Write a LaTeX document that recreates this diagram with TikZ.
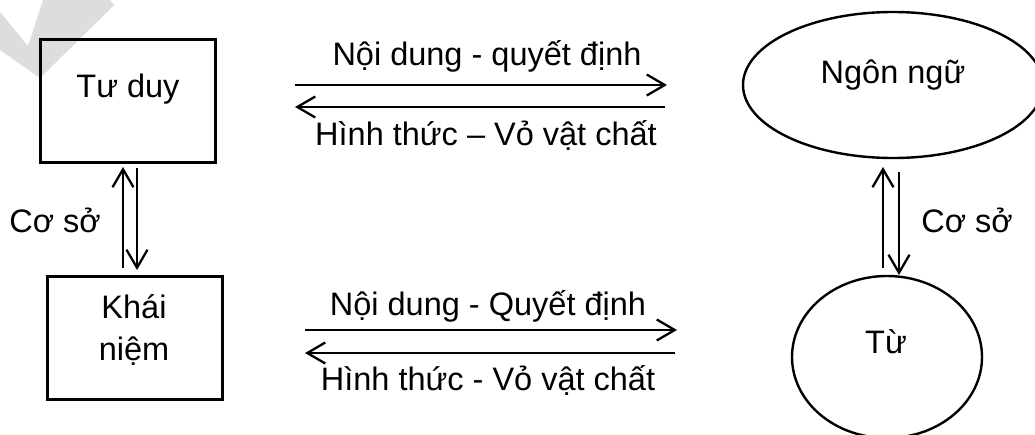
\documentclass[tikz,border=0pt]{standalone}
\usepackage{fontspec}
\setmainfont{Liberation Sans}
\usetikzlibrary{arrows.meta,shapes.geometric}
\definecolor{markgray}{HTML}{DDDDDD}
\tikzset{
  frame/.style={draw, line width=3pt, minimum width=175pt, minimum height=123pt, inner sep=0pt},
  oval/.style={draw, ellipse, line width=2.4pt, inner sep=0pt},
  word/.style={inner sep=0pt, anchor=base, font=\fontsize{32.5}{42}\selectfont},
  link/.style={line width=2.3pt, -{Straight Barb[length=18pt,width=21pt,line width=2.3pt]}}
}
\begin{document}
\begin{tikzpicture}[x=1pt,y=-1pt]
\useasboundingbox (0,0) rectangle (1035,434);
\clip (0,0) rectangle (1035,434);
\fill[white] (0,0) rectangle (1035,434);
% faint grey stroke in the top-left corner
\fill[markgray] (0,12) -- (28,46) -- (43,0) -- (110,0) -- (114,5) -- (97,22) -- (40,78) -- (0,50) -- cycle;

% shapes
\node[frame] (tuduy) at (127.5,100.5) {};
\node[word] (tuduytext) at (128,97) {Tư duy};
\node[frame] (khainiem) at (134.5,338) {};
\node[word] (khaitext) at (134,318) {Khái};
\node[word] (niemtext) at (134,360) {niệm};
\node[oval, minimum width=300pt, minimum height=146pt] (ngonngu) at (893,85) {};
\node[word] (ngonngutext) at (893,83) {Ngôn ngữ};
\node[oval, minimum width=190pt, minimum height=162pt] (tu) at (887,357) {};
\node[word] (tutext) at (886,353) {Từ};

% labels
\node[word] (top1) at (487,65) {Nội dung - quyết định};
\node[word] (top2) at (486,145) {Hình thức – Vỏ vật chất};
\node[word] (bot1) at (488,315) {Nội dung - Quyết định};
\node[word] (bot2) at (488,390) {Hình thức - Vỏ vật chất};
\node[word] (cosoL) at (55,232) {Cơ sở};
\node[word] (cosoR) at (967,232) {Cơ sở};

% arrow end points
\coordinate (t1s) at (295,85);  \coordinate (t1e) at (667,85);
\coordinate (t2s) at (665,107); \coordinate (t2e) at (295,107);
\coordinate (b1s) at (305,330); \coordinate (b1e) at (677,330);
\coordinate (b2s) at (675,353); \coordinate (b2e) at (305,353);
\coordinate (l1s) at (123,268); \coordinate (l1e) at (123,167);
\coordinate (l2s) at (137,168); \coordinate (l2e) at (137,270);
\coordinate (r1s) at (883,268); \coordinate (r1e) at (883,167);
\coordinate (r2s) at (899,172); \coordinate (r2e) at (899,275);

% connectors
\draw[link] (t1s) -- (t1e);
\draw[link] (t2s) -- (t2e);
\draw[link] (b1s) -- (b1e);
\draw[link] (b2s) -- (b2e);
\draw[link] (l1s) -- (l1e);
\draw[link] (l2s) -- (l2e);
\draw[link] (r1s) -- (r1e);
\draw[link] (r2s) -- (r2e);
\end{tikzpicture}
\end{document}
